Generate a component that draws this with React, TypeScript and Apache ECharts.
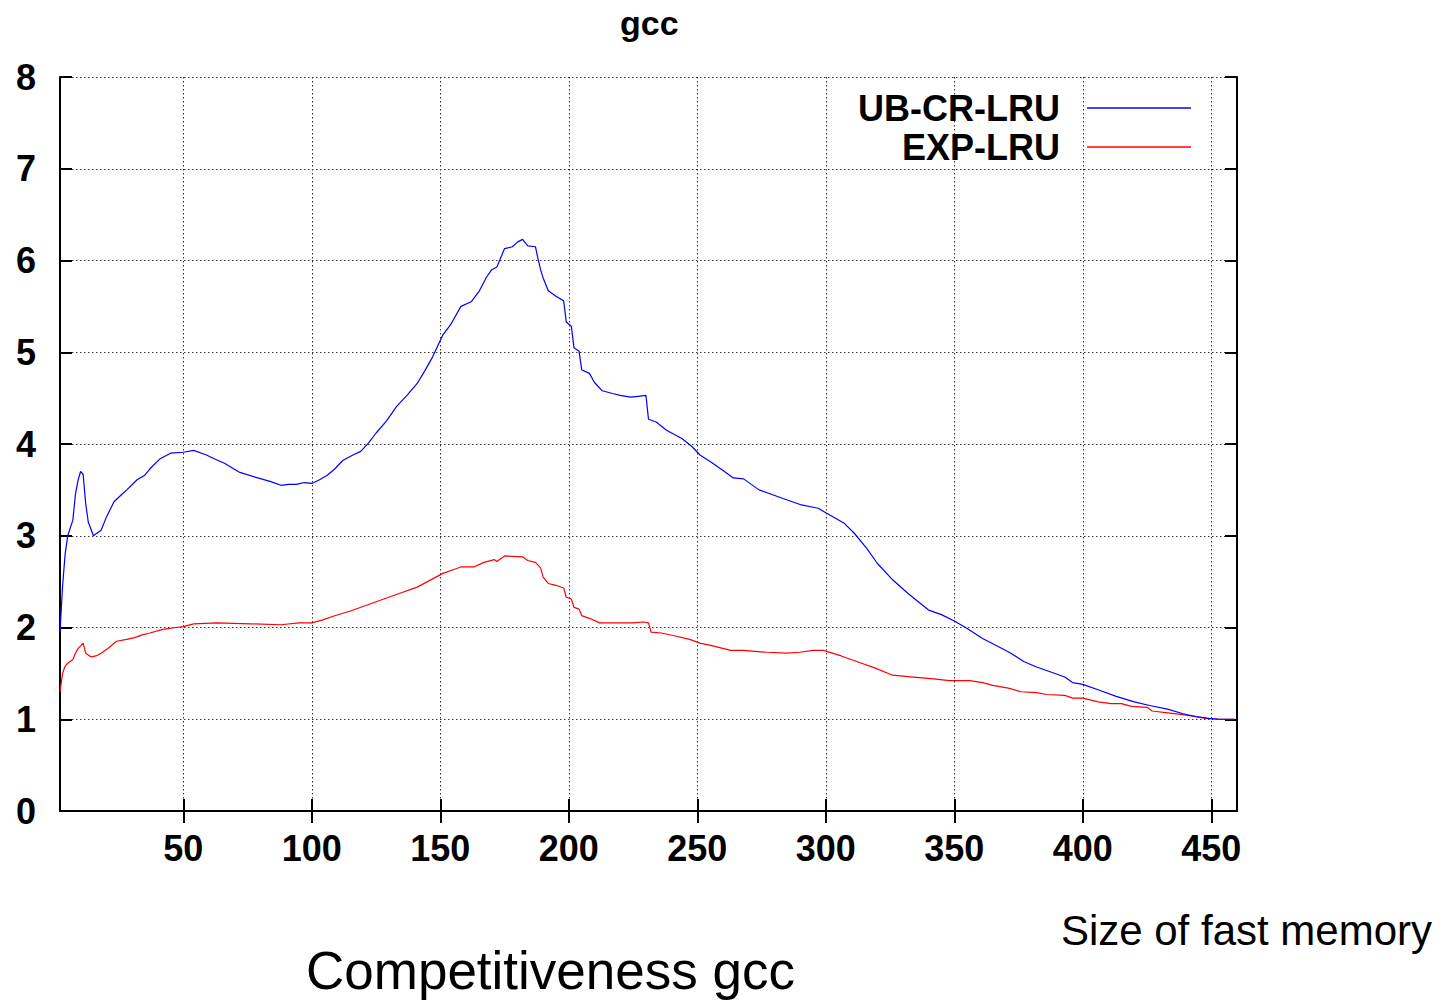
import React, { useEffect, useRef } from "react";
import * as echarts from "echarts";

const FONT = "Liberation Sans, Arial, Helvetica, sans-serif";

const xTickValues = [50, 100, 150, 200, 250, 300, 350, 400, 450];

const ubX = [2, 3, 4, 5, 7, 8, 9, 10, 11, 12, 13, 15, 18, 20, 23, 26, 28, 32, 35, 37, 41, 45, 50, 54, 59, 62, 66, 72, 79, 84, 88, 91, 94, 97, 100, 103, 106, 109, 112, 116, 119, 122, 125, 129, 133, 137, 141, 144, 147, 151, 154, 158, 162, 165, 168, 170, 172, 175, 178, 180, 182, 184, 187, 188, 189, 190, 192, 195, 198, 199, 201, 202, 204, 205, 208, 210, 213, 217, 220, 224, 227, 230, 231, 234, 238, 244, 248, 251, 255, 260, 264, 268, 274, 282, 290, 297, 300, 307, 311, 316, 320, 326, 332, 340, 345, 350, 355, 361, 368, 372, 377, 382, 387, 393, 396, 400, 407, 413, 420, 426, 433, 439, 444, 449, 453, 459];
const ubY = [1.95, 2.45, 2.8, 3.0, 3.17, 3.45, 3.6, 3.7, 3.67, 3.35, 3.15, 3.0, 3.06, 3.2, 3.37, 3.45, 3.5, 3.61, 3.66, 3.73, 3.84, 3.9, 3.91, 3.93, 3.88, 3.84, 3.79, 3.69, 3.63, 3.59, 3.55, 3.56, 3.56, 3.58, 3.57, 3.61, 3.66, 3.73, 3.82, 3.88, 3.92, 4.01, 4.12, 4.25, 4.41, 4.53, 4.66, 4.8, 4.95, 5.19, 5.3, 5.5, 5.55, 5.66, 5.82, 5.9, 5.93, 6.13, 6.15, 6.2, 6.23, 6.16, 6.15, 6.02, 5.9, 5.81, 5.67, 5.61, 5.56, 5.33, 5.28, 5.05, 5.01, 4.81, 4.77, 4.67, 4.58, 4.55, 4.53, 4.51, 4.52, 4.53, 4.27, 4.24, 4.15, 4.06, 3.97, 3.88, 3.81, 3.71, 3.63, 3.62, 3.5, 3.42, 3.34, 3.3, 3.25, 3.14, 3.03, 2.86, 2.7, 2.52, 2.37, 2.19, 2.14, 2.07, 1.99, 1.88, 1.78, 1.72, 1.63, 1.57, 1.52, 1.46, 1.4, 1.38, 1.31, 1.25, 1.19, 1.15, 1.11, 1.06, 1.03, 1.01, 1.0, 1.0];

const expX = [2, 3, 4, 5, 7, 8, 9, 11, 12, 14, 16, 18, 21, 24, 28, 31, 34, 37, 42, 47, 50, 54, 63, 76, 88, 95, 100, 104, 108, 115, 121, 128, 134, 141, 147, 151, 155, 158, 163, 167, 171, 172, 175, 182, 184, 187, 189, 190, 192, 195, 198, 199, 201, 202, 204, 205, 208, 212, 219, 225, 229, 231, 232, 236, 241, 247, 251, 256, 263, 268, 277, 285, 290, 295, 299, 306, 312, 319, 326, 334, 342, 348, 356, 361, 365, 371, 376, 382, 386, 393, 396, 400, 406, 411, 415, 419, 425, 427, 433, 439, 448, 453, 459];
const expY = [1.3, 1.5, 1.58, 1.61, 1.65, 1.72, 1.77, 1.83, 1.72, 1.68, 1.69, 1.72, 1.78, 1.85, 1.87, 1.89, 1.92, 1.94, 1.98, 2.0, 2.01, 2.04, 2.05, 2.04, 2.03, 2.05, 2.05, 2.08, 2.12, 2.18, 2.24, 2.31, 2.37, 2.44, 2.53, 2.59, 2.63, 2.66, 2.66, 2.71, 2.74, 2.72, 2.78, 2.77, 2.73, 2.71, 2.65, 2.55, 2.48, 2.46, 2.43, 2.33, 2.31, 2.22, 2.2, 2.13, 2.1, 2.05, 2.05, 2.05, 2.06, 2.05, 1.95, 1.94, 1.91, 1.87, 1.83, 1.8, 1.75, 1.75, 1.73, 1.72, 1.73, 1.75, 1.75, 1.69, 1.63, 1.56, 1.48, 1.46, 1.44, 1.42, 1.42, 1.4, 1.37, 1.34, 1.3, 1.29, 1.27, 1.26, 1.23, 1.23, 1.19, 1.17, 1.17, 1.14, 1.13, 1.09, 1.07, 1.05, 1.01, 1.0, 1.0];

const seriesNames = ["UB-CR-LRU", "EXP-LRU"];

function pairs(xs: number[], ys: number[]) {
  return xs.map((x, i) => [x, ys[i]]);
}

export default function App() {
  const ref = useRef<HTMLDivElement>(null);

  useEffect(() => {
    if (!ref.current) return;
    const chart = echarts.init(ref.current, null, { renderer: "svg" });

    const tickStyle = { show: true, inside: true, length: 12, lineStyle: { color: "#000", width: 2 } };
    const axisLine = { show: true, lineStyle: { color: "#000", width: 2 } };
    const split = { show: true, lineStyle: { color: "#333", width: 1, type: [1.5, 2.5] as any } };

    const option: any = {
      animation: false,
      backgroundColor: "#fff",
      title: [
        {
          text: "gcc",
          left: 620,
          top: 6,
          padding: 0,
          textStyle: { fontFamily: FONT, fontSize: 34, fontWeight: "bold", color: "#000" },
        },
        {
          text: "Competitiveness gcc",
          left: 306,
          top: 944,
          padding: 0,
          textStyle: { fontFamily: FONT, fontSize: 53, fontWeight: "normal", color: "#000" },
        },
      ],
      legend: [0, 1].map((i) => ({
        data: [seriesNames[i]],
        orient: "vertical",
        align: "right",
        right: 256,
        top: i === 0 ? 90 : 129,
        padding: 0,
        icon: "rect",
        itemWidth: 104,
        itemHeight: 1.5,
        selectedMode: false,
        textStyle: {
          fontFamily: FONT,
          fontSize: 36,
          fontWeight: "bold",
          color: "#000",
          lineHeight: 36,
          padding: [0, 22, 0, 0],
        },
      })),
      grid: { left: 60, right: 210, top: 77, bottom: 190, containLabel: false },
      xAxis: [
        {
          type: "value",
          min: 2,
          max: 460,
          name: "Size of fast memory",
          nameLocation: "end",
          nameGap: 195,
          nameTextStyle: {
            fontFamily: FONT,
            fontSize: 42,
            color: "#000",
            align: "right",
            verticalAlign: "top",
            padding: [98, 0, 0, 0],
          },
          axisLine,
          axisTick: { ...tickStyle, customValues: xTickValues },
          axisLabel: {
            customValues: xTickValues,
            margin: 19,
            fontFamily: FONT,
            fontSize: 36,
            fontWeight: "bold",
            color: "#000",
          },
          splitLine: split,
        },
        {
          type: "value",
          position: "top",
          min: 2,
          max: 460,
          axisLine,
          axisTick: { ...tickStyle, customValues: xTickValues },
          axisLabel: { show: false, customValues: xTickValues },
          splitLine: { show: false },
        },
      ],
      yAxis: [
        {
          type: "value",
          min: 0,
          max: 8,
          interval: 1,
          axisLine,
          axisTick: tickStyle,
          axisLabel: {
            margin: 24,
            fontFamily: FONT,
            fontSize: 36,
            fontWeight: "bold",
            color: "#000",
          },
          splitLine: split,
        },
        {
          type: "value",
          position: "right",
          min: 0,
          max: 8,
          interval: 1,
          axisLine,
          axisTick: tickStyle,
          axisLabel: { show: false },
          splitLine: { show: false },
        },
      ],
      series: [
        {
          name: seriesNames[0],
          type: "line",
          data: pairs(ubX, ubY),
          showSymbol: false,
          symbol: "none",
          color: "#0000ff",
          lineStyle: { color: "#0000ff", width: 1.2 },
          z: 3,
        },
        {
          name: seriesNames[1],
          type: "line",
          data: pairs(expX, expY),
          showSymbol: false,
          symbol: "none",
          color: "#ff0000",
          lineStyle: { color: "#ff0000", width: 1.2 },
          z: 2,
        },
      ],
    };

    chart.setOption(option);
    return () => chart.dispose();
  }, []);

  return (
    <div
      ref={ref}
      style={{ position: "fixed", left: 0, top: 0, width: 1447, height: 1001, background: "#fff" }}
    />
  );
}
